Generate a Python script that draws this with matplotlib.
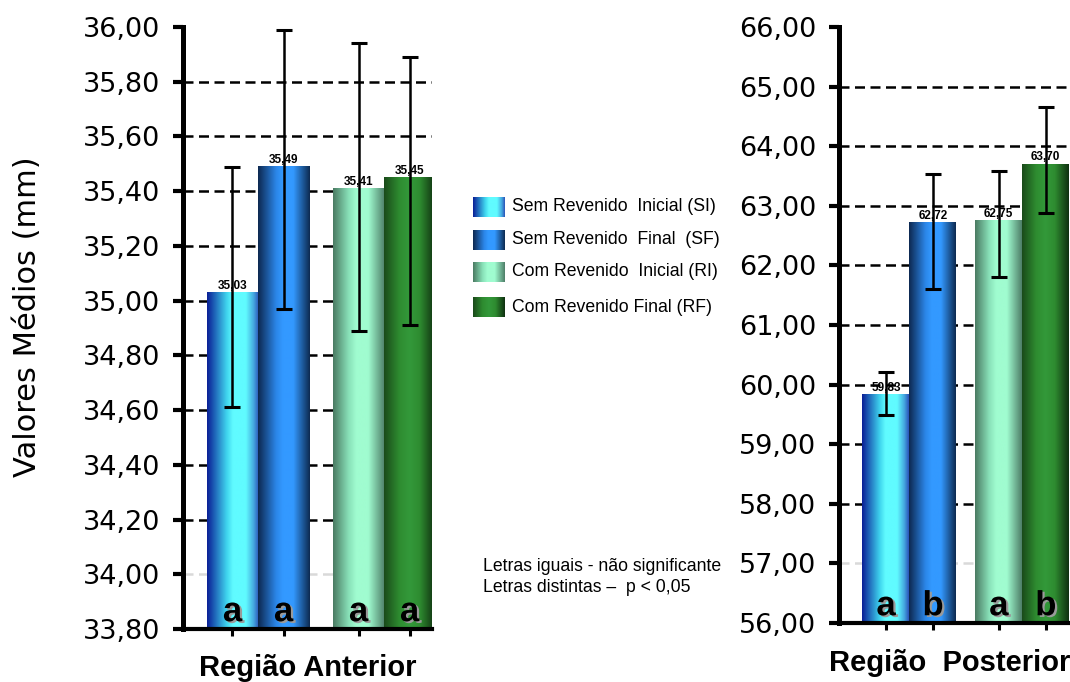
import numpy as np
import matplotlib
matplotlib.use("Agg")
import matplotlib.pyplot as plt
import matplotlib.patheffects as pe
from matplotlib import font_manager as fm
from matplotlib.colors import LinearSegmentedColormap
from matplotlib.transforms import blended_transform_factory

# ---- data -------------------------------------------------------------
series_labels = [
    "Sem Revenido  Inicial (SI)",
    "Sem Revenido  Final  (SF)",
    "Com Revenido  Inicial (RI)",
    "Com Revenido Final (RF)",
]

anterior_means = [35.03, 35.49, 35.41, 35.45]
anterior_err_lo = [0.42, 0.52, 0.52, 0.54]
anterior_err_hi = [0.46, 0.50, 0.53, 0.44]
anterior_letters = ["a", "a", "a", "a"]
anterior_ticks = [33.8, 34.0, 34.2, 34.4, 34.6, 34.8, 35.0, 35.2, 35.4, 35.6, 35.8, 36.0]

posterior_means = [59.83, 62.72, 62.75, 63.70]
posterior_err_lo = [0.34, 1.12, 0.94, 0.82]
posterior_err_hi = [0.38, 0.81, 0.83, 0.96]
posterior_letters = ["a", "b", "a", "b"]
posterior_ticks = [56, 57, 58, 59, 60, 61, 62, 63, 64, 65, 66]

note_text = "Letras iguais - não significante\nLetras distintas –  p < 0,05"

# ---- styling ----------------------------------------------------------
gradient_stops = [
    [(0.0, "#0a1e96"), (0.38, "#3fd4ee"), (0.5, "#60fbff"), (0.75, "#60fbff"),
     (0.9, "#45a8e0"), (1.0, "#2a52b8")],
    [(0.0, "#0d2850"), (0.35, "#2b86e8"), (0.48, "#3399ff"), (0.68, "#3399ff"),
     (1.0, "#0d2a50")],
    [(0.0, "#4a7a62"), (0.3, "#88e0b8"), (0.45, "#a0fcd0"), (0.68, "#a0fcd0"),
     (1.0, "#4e7e68")],
    [(0.0, "#1a4a1a"), (0.3, "#2e8c30"), (0.5, "#33993a"), (0.7, "#2e8c30"),
     (1.0, "#0f3010")],
]
cmaps = [LinearSegmentedColormap.from_list(f"g{i}", s) for i, s in enumerate(gradient_stops)]
grad = np.linspace(0, 1, 256)[None, :]

installed = {f.name for f in fm.fontManager.ttflist}
if "Liberation Sans Narrow" in installed:
    narrow_family, narrow_size = "Liberation Sans Narrow", 15.5
else:
    narrow_family, narrow_size = "Liberation Sans", 12.7

W, H = 1070, 682
fig = plt.figure(figsize=(W / 100, H / 100), dpi=100)


def fmt_comma(v):
    return f"{v:.2f}".replace(".", ",")


def draw_panel(rect, means, err_lo, err_hi, letters, ticks, gap, xlim,
               xlabel, xlabel_pos):
    ax = fig.add_axes(rect)
    # two pairs of bars separated by an extra gap
    x = np.array([0.0, 1.0, 2.0 + gap, 3.0 + gap])
    base = ticks[0]
    heights = np.array(means) - base
    bars = ax.bar(x, heights, bottom=base, width=1.0, color="none",
                  edgecolor="none", zorder=2)
    for bar, cmap in zip(bars, cmaps):
        x0 = bar.get_x()
        ax.imshow(grad, cmap=cmap, aspect="auto", interpolation="bilinear",
                  extent=[x0, x0 + bar.get_width(), base, base + bar.get_height()],
                  zorder=2)
    ax.errorbar(x, means, yerr=[err_lo, err_hi], fmt="none", ecolor="black",
                elinewidth=1.8, capsize=6, capthick=2.2, zorder=4)
    for xi, m in zip(x, means):
        ax.annotate(fmt_comma(m), (xi, m), xytext=(0, 0.5), textcoords="offset points",
                    ha="center", va="bottom", fontsize=8.5, fontweight="bold",
                    family="Liberation Sans", zorder=5)
    trans = blended_transform_factory(ax.transData, ax.transAxes)
    for xi, letter in zip(x, letters):
        ax.text(xi, 0.013, letter, transform=trans, ha="center", va="baseline",
                fontsize=25, fontweight="bold", family="Liberation Sans", zorder=5,
                path_effects=[pe.withSimplePatchShadow(offset=(1.6, -1.2),
                                                       shadow_rgbFace="#9a9a9a",
                                                       alpha=1.0)])
    # dashed reference lines
    for i, t in enumerate(ticks[1:-1]):
        ax.axhline(t, color="#d9d9d9" if i == 0 else "black", lw=1.8,
                   ls=(0, (4, 2.2)), zorder=1)
    ax.set_xlim(*xlim)
    ax.set_ylim(ticks[0], ticks[-1])
    ax.set_yticks(ticks)
    ax.set_yticklabels([fmt_comma(t) for t in ticks], fontsize=19.5,
                       family="DejaVu Sans")
    ax.set_xticks(x)
    ax.set_xticklabels([])
    for s in ("top", "right"):
        ax.spines[s].set_visible(False)
    ax.spines["left"].set_linewidth(3.6)
    ax.spines["bottom"].set_linewidth(3.0)
    ax.tick_params(axis="y", direction="out", length=7.5, width=3, pad=9)
    ax.tick_params(axis="x", direction="out", length=5, width=2.2)
    ax.text(xlabel_pos[0], xlabel_pos[1], xlabel, transform=ax.transAxes,
            ha="center", va="center", fontsize=21, fontweight="bold",
            family="Liberation Sans")
    return ax


draw_panel([183 / W, 1 - 629 / H, 249 / W, 602 / H],
           anterior_means, anterior_err_lo, anterior_err_hi, anterior_letters,
           anterior_ticks, 0.47, (-0.97, 3.91), "Região Anterior", (0.5, -0.065))

draw_panel([839 / W, 1 - 623 / H, 231 / W, 596 / H],
           posterior_means, posterior_err_lo, posterior_err_hi, posterior_letters,
           posterior_ticks, 0.40, (-1.0, 3.915), "Região  Posterior", (0.48, -0.067))

# y axis title
fig.text(28 / W, 1 - 317 / H, "Valores Médios (mm)", rotation=90, ha="center",
         va="center", fontsize=22, family="DejaVu Sans")

# legend with gradient swatches
row_centers = [207, 240, 272, 307]
for yc, cmap, label in zip(row_centers, cmaps, series_labels):
    sw = fig.add_axes([473 / W, 1 - (yc + 10) / H, 32 / W, 20 / H])
    sw.imshow(grad, cmap=cmap, aspect="auto", interpolation="bilinear")
    sw.set_axis_off()
    fig.text(512 / W, 1 - yc / H, label, ha="left", va="center",
             fontsize=narrow_size, family=narrow_family)

fig.text(483 / W, 1 - 577 / H, note_text, ha="left", va="center",
         fontsize=narrow_size, family=narrow_family, linespacing=1.25)

fig.savefig("out.png", dpi=100)
